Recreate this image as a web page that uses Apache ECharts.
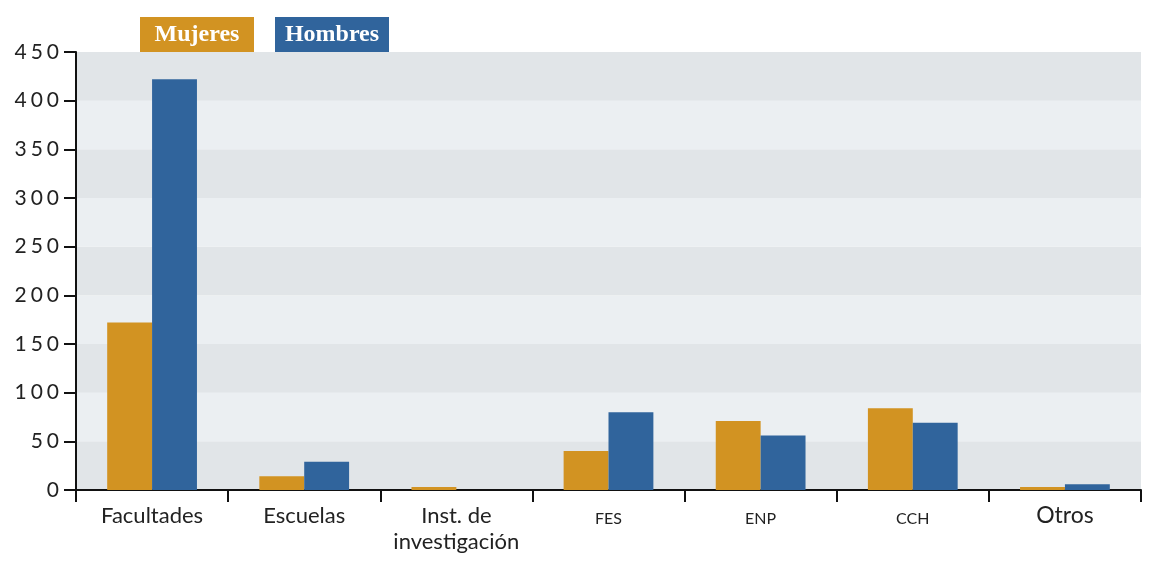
<!DOCTYPE html>
<html>
<head>
<meta charset="utf-8">
<script src="https://cdn.jsdelivr.net/npm/echarts@6/dist/echarts.min.js"></script>
<style>html,body{margin:0;padding:0;background:#fff}#c{width:1149px;height:562px}</style>
</head>
<body>
<div id="c"></div>
<script>
const categories = ['Facultades', 'Escuelas', 'Inst. de\ninvestigación', 'FES', 'ENP', 'CCH', 'Otros'];
const mujeres = [172, 14, 3, 40, 71, 84, 3];
const hombres = [422, 29, 0, 80, 56, 69, 6];
const seriesNames = ['Mujeres', 'Hombres'];
const yTicks = [0, 50, 100, 150, 200, 250, 300, 350, 400, 450];

const colors = ['#d29322', '#30649c'];
const chart = echarts.init(document.getElementById('c'), null, {renderer: 'canvas'});
const font = 'Lato, "Open Sans", sans-serif';
const serif = '"Liberation Serif", "DejaVu Serif", serif';
chart.setOption({
  animation: false,
  grid: {left: 76, right: 8, top: 52, bottom: 72, containLabel: false},
  legend: {
    left: 130, top: 12, itemWidth: 0, itemHeight: 0, itemGap: 16, icon: 'rect',
    data: seriesNames,
    selectedMode: false,
    formatter: function (n) { return '{' + (n === 'Mujeres' ? 'm' : 'h') + '|' + n + '}'; },
    textStyle: {
      rich: {
        m: {backgroundColor: colors[0], color: '#fff', fontFamily: serif, fontSize: 24, fontWeight: 'bold', width: 114, height: 35, lineHeight: 35, align: 'center'},
        h: {backgroundColor: colors[1], color: '#fff', fontFamily: serif, fontSize: 24, fontWeight: 'bold', width: 114, height: 35, lineHeight: 35, align: 'center'}
      }
    }
  },
  xAxis: {
    type: 'category',
    data: categories,
    boundaryGap: true,
    axisLine: {lineStyle: {color: '#111', width: 2}},
    axisTick: {show: true, length: 12, lineStyle: {color: '#111', width: 2}},
    axisLabel: {
      interval: 0, margin: 13, color: '#222', fontFamily: font, fontSize: 22, lineHeight: 26,
      formatter: function (v) { return v.length <= 3 ? '{s|' + v + '}' : (v === 'Otros' ? '{o|' + v + '}' : v); },
      rich: {
        s: {fontSize: 16, color: '#222', fontFamily: font, padding: [5, 0, 0, 0]},
        o: {fontSize: 23, color: '#222', fontFamily: font}
      }
    },
    splitLine: {show: false}
  },
  yAxis: {
    type: 'value', min: 0, max: 450, interval: 50,
    axisLine: {show: true, lineStyle: {color: '#111', width: 2}},
    axisTick: {show: true, length: 12, lineStyle: {color: '#111', width: 2}},
    axisLabel: {
      margin: 17, color: '#222', fontFamily: font, fontSize: 21,
      formatter: function (v) { return yTicks.indexOf(v) >= 0 ? String(v).split('').join('\u2009\u200A') : ''; }
    },
    splitLine: {show: false},
    splitArea: {show: true, areaStyle: {color: ['#e1e5e8', '#ebeff2']}}
  },
  series: [
    {name: seriesNames[0], type: 'bar', data: mujeres, itemStyle: {color: colors[0]}, barGap: '0%', barCategoryGap: '41%'},
    {name: seriesNames[1], type: 'bar', data: hombres, itemStyle: {color: colors[1]}, barGap: '0%', barCategoryGap: '41%'}
  ]
});
</script>
</body>
</html>
